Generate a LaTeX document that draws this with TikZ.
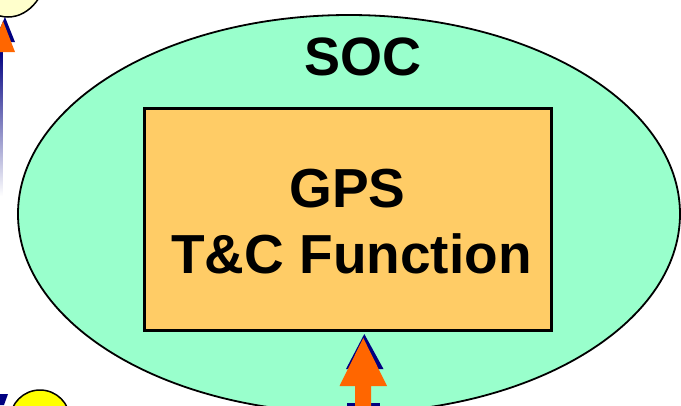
\documentclass[tikz,border=0pt]{standalone}
\usepackage{fontspec}
\setmainfont{Liberation Sans}
\usetikzlibrary{shapes.geometric}
\definecolor{socgreen}{RGB}{153,255,204}
\definecolor{boxorange}{RGB}{255,204,102}
\definecolor{arrorange}{RGB}{255,102,0}
\definecolor{arrnavy}{RGB}{0,0,128}
\definecolor{paleyellow}{RGB}{255,255,204}
\definecolor{brightyellow}{RGB}{255,255,0}
\tikzset{
  socshape/.style={ellipse, draw=black, line width=1.8pt, fill=socgreen, inner sep=0pt, minimum width=662pt, minimum height=398pt},
  gpsbox/.style={rectangle, draw=black, line width=2.8pt, fill=boxorange, inner sep=0pt, minimum width=407pt, minimum height=222pt},
  bigtext/.style={font=\fontsize{54}{60}\selectfont\bfseries, inner sep=0pt, anchor=base},
  boxtext/.style={font=\fontsize{55}{60}\selectfont\bfseries, inner sep=0pt, anchor=base},
  orangearrow/.style={fill=arrorange, draw=none},
  navyshadow/.style={fill=arrnavy, draw=none},
  yellowball/.style={ellipse, draw=black, line width=1.5pt, inner sep=0pt},
}
\begin{document}
\begin{tikzpicture}[x=1pt, y=-1pt]
\useasboundingbox (0,0) rectangle (681,405);
% neighbouring elements (cropped)
\node[yellowball, fill=paleyellow, minimum width=80pt, minimum height=104pt] (topball) at (8,-35) {};
\node[yellowball, fill=brightyellow, minimum width=60pt, minimum height=60pt] (botball) at (40,420) {};
\fill[navyshadow] (0,394) -- (8,394) -- (4,405) -- (0,405) -- cycle;
\shade[top color=arrnavy, bottom color=white] (0,50) rectangle (2.5,196);
\fill[navyshadow] (5,17) -- (15,42) -- (-6,42) -- cycle;
\fill[orangearrow] (3,21) -- (15,52) -- (-9,52) -- cycle;
% main diagram
\node[socshape] (soc) at (349,214) {};
\node[gpsbox] (gps) at (348,219.5) {};
\node[bigtext] (soclabel) at (363,75) {SOC};
\node[boxtext] (gpsline1) at (347.5,207) {GPS};
\node[boxtext] (gpsline2) at (351.5,273) {T\&C Function};
% incoming arrow
\fill[navyshadow] (364.3,334) -- (383.5,369) -- (346,369) -- cycle;
\fill[navyshadow] (347,403) rectangle (380,406);
\fill[orangearrow] (363.3,338) -- (387,386) -- (371,386) -- (371,406) -- (355,406) -- (355,386) -- (339.5,386) -- cycle;
\end{tikzpicture}
\end{document}
